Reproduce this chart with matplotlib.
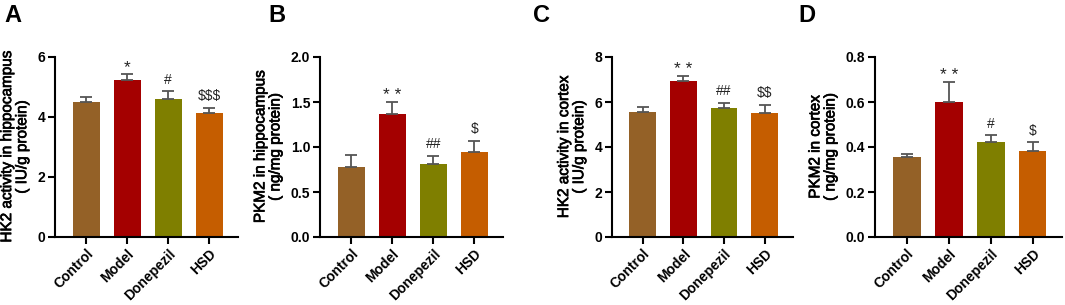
import matplotlib
matplotlib.use("Agg")
import matplotlib.pyplot as plt
import matplotlib.patheffects as pe
import numpy as np

plt.rcParams["font.family"] = ["Liberation Sans", "DejaVu Sans"]

groups = ["Control", "Model", "Donepezil", "HSD"]
colors = ["#946127", "#A40000", "#7F7F00", "#C55D00"]

hk2_hip = [4.51, 5.23, 4.60, 4.14]
hk2_hip_err = [0.17, 0.20, 0.26, 0.17]
hk2_hip_sig = ["", "*", "#", "$$$"]

pkm2_hip = [0.78, 1.37, 0.81, 0.95]
pkm2_hip_err = [0.13, 0.13, 0.09, 0.12]
pkm2_hip_sig = ["", "**", "##", "$"]

hk2_ctx = [5.56, 6.95, 5.72, 5.50]
hk2_ctx_err = [0.22, 0.19, 0.24, 0.38]
hk2_ctx_sig = ["", "**", "##", "$$"]

pkm2_ctx = [0.356, 0.600, 0.424, 0.384]
pkm2_ctx_err = [0.014, 0.087, 0.028, 0.038]
pkm2_ctx_sig = ["", "**", "#", "$"]

panels = [
    ("A", hk2_hip, hk2_hip_err, hk2_hip_sig, "HK2 activity in hippocampus\n( IU/g protein)",
     6, [0, 2, 4, 6], ["0", "2", "4", "6"]),
    ("B", pkm2_hip, pkm2_hip_err, pkm2_hip_sig, "PKM2 in hippocampus\n( ng/mg protein)",
     2.0, [0, 0.5, 1.0, 1.5, 2.0], ["0.0", "0.5", "1.0", "1.5", "2.0"]),
    ("C", hk2_ctx, hk2_ctx_err, hk2_ctx_sig, "HK2 activity in cortex\n( IU/g protein)",
     8, [0, 2, 4, 6, 8], ["0", "2", "4", "6", "8"]),
    ("D", pkm2_ctx, pkm2_ctx_err, pkm2_ctx_sig, "PKM2 in cortex\n( ng/mg protein)",
     0.8, [0, 0.2, 0.4, 0.6, 0.8], ["0.0", "0.2", "0.4", "0.6", "0.8"]),
]

# axes boxes in pixels: left, right (figure is 1065x305)
boxes = [(55, 238), (320, 503), (612, 793), (875, 1062)]
letter_x = [4, 268, 533, 798]

fig = plt.figure(figsize=(10.65, 3.05), dpi=100)
x = np.arange(len(groups))

for (letter, vals, errs, sig, ylabel, ymax, ticks, ticklabels), (l, r), lx in zip(panels, boxes, letter_x):
    ax = fig.add_axes([l / 1065, (305 - 237) / 305, (r - l) / 1065, 180 / 305])
    ax.bar(x, vals, width=0.66, color=colors, zorder=2)
    ax.errorbar(x, vals, yerr=[np.zeros(len(vals)), errs], fmt="none",
                ecolor="#555555", elinewidth=1.3, capsize=4, capthick=1.3, zorder=3)
    for xi, v, e, s in zip(x, vals, errs, sig):
        if not s:
            continue
        if s.startswith("*"):
            ax.text(xi, v + e - ymax * 0.005, " ".join(s), ha="center", va="bottom", fontsize=12.5,
                    color="#222222", parse_math=False)
        else:
            ax.text(xi, v + e + ymax * 0.025, s, ha="center", va="bottom", fontsize=10,
                    color="#222222", parse_math=False)
    ax.set_xlim(-0.76, 3.7)
    ax.set_ylim(0, ymax)
    ax.set_yticks(ticks)
    ax.set_yticklabels(ticklabels, fontsize=10, fontweight="bold")
    ax.set_xticks(x)
    ax.set_xticklabels(groups, rotation=45, ha="right", rotation_mode="anchor",
                       fontsize=10, fontweight="bold")
    ax.set_ylabel(ylabel, fontsize=11, labelpad=6, linespacing=1.1,
                  path_effects=[pe.withStroke(linewidth=0.5, foreground="black")])
    for side in ["top", "right"]:
        ax.spines[side].set_visible(False)
    for side in ["left", "bottom"]:
        ax.spines[side].set_linewidth(1.5)
    ax.tick_params(axis="both", width=1.5, length=5, pad=2)
    fig.text(lx / 1065, 1 - 4 / 305, letter, fontsize=17, fontweight="bold", va="top", ha="left")

fig.savefig("out.png", dpi=100)
